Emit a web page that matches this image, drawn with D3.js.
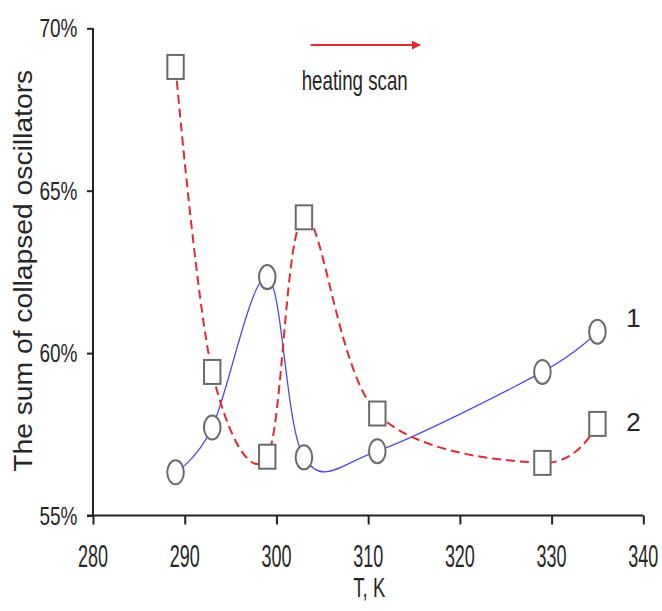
<!DOCTYPE html>
<html>
<head>
<meta charset="utf-8">
<script src="https://cdn.jsdelivr.net/npm/d3@7"></script>
<style>
  html, body { margin: 0; padding: 0; background: #fff; }
  svg { display: block; }
  text { font-family: "Liberation Sans", Arial, sans-serif; fill: #262626; }
</style>
</head>
<body>
<svg id="chart" width="662" height="611"></svg>
<script>
// Temperature points (K)
const temperatures = [289, 293, 299, 303, 311, 329, 335];
// Series 1: circles, solid blue smoothed line (%)
const series1 = [56.33, 57.71, 62.34, 56.79, 56.98, 59.42, 60.66];
// Series 2: squares, dashed red smoothed line (%)
const series2 = [68.81, 59.42, 56.81, 64.18, 58.14, 56.62, 57.82];
// Axis ticks
const xTicks = [280, 290, 300, 310, 320, 330, 340];
const yTicks = [55, 60, 65, 70];
const yTickLabels = ["55%", "60%", "65%", "70%"];
const seriesNames = ["1", "2"];

const svg = d3.select("#chart");

const x = d3.scaleLinear().domain([280, 340]).range([93, 643.3]);
const y = d3.scaleLinear().domain([55, 70]).range([515.5, 28.3]);

// Axes
const axisColor = "#222";
const xAxis = d3.axisBottom(x).tickValues(xTicks).tickSize(9).tickFormat("");
const gx = svg.append("g").attr("transform", `translate(0,${y(55)})`).call(xAxis);
gx.select(".domain").attr("d", `M${x(280) - 6},0H${x(340)}`);
gx.selectAll("path, line").attr("stroke", axisColor).attr("stroke-width", 2);

const yAxis = d3.axisLeft(y).tickValues(yTicks).tickSize(6).tickFormat("");
const gy = svg.append("g").attr("transform", `translate(${x(280)},0)`).call(yAxis);
gy.select(".domain").attr("d", `M0,${y(70)}V${y(55)}`);
gy.selectAll("path, line").attr("stroke", axisColor).attr("stroke-width", 2);

// Tick labels (narrow, tall digits drawn with a horizontal squeeze)
svg.append("g").selectAll("text").data(xTicks).join("text")
  .attr("transform", d => `translate(${x(d)},567) scale(0.58,1)`)
  .attr("text-anchor", "middle")
  .attr("font-size", 31)
  .text(d => d);

svg.append("g").selectAll("text").data(yTicks).join("text")
  .attr("x", 77.5).attr("y", d => y(d) + 9)
  .attr("text-anchor", "end")
  .attr("font-size", 25)
  .attr("textLength", 38).attr("lengthAdjust", "spacingAndGlyphs")
  .text((d, i) => yTickLabels[i]);

// Axis titles
svg.append("text")
  .attr("x", 369.3).attr("y", 596.7)
  .attr("text-anchor", "middle")
  .attr("font-size", 27)
  .attr("textLength", 32).attr("lengthAdjust", "spacingAndGlyphs")
  .text("T, K");

svg.append("text")
  .attr("transform", "translate(31.7,270.8) rotate(-90)")
  .attr("text-anchor", "middle")
  .attr("font-size", 25.5)
  .attr("textLength", 402).attr("lengthAdjust", "spacingAndGlyphs")
  .text("The sum of collapsed oscillators");

// Heating scan arrow and caption
const red = "#e02a30";
svg.append("defs").append("marker")
  .attr("id", "arrowHead")
  .attr("viewBox", "0 0 10 10")
  .attr("refX", 9).attr("refY", 5)
  .attr("markerWidth", 4.5).attr("markerHeight", 4.5)
  .attr("markerUnits", "strokeWidth")
  .attr("orient", "auto")
  .append("path").attr("d", "M0,0L10,5L0,10Z").attr("fill", red);

svg.append("line")
  .attr("x1", 310.7).attr("x2", 420).attr("y1", 45).attr("y2", 45)
  .attr("stroke", red).attr("stroke-width", 2)
  .attr("marker-end", "url(#arrowHead)");

svg.append("text")
  .attr("x", 301.7).attr("y", 90)
  .attr("font-size", 28.5)
  .attr("textLength", 106).attr("lengthAdjust", "spacingAndGlyphs")
  .text("heating scan");

// Smoothed curves
const line = d3.line().curve(d3.curveCardinal.tension(0));
const pts1 = temperatures.map((t, i) => [x(t), y(series1[i])]);
const pts2 = temperatures.map((t, i) => [x(t), y(series2[i])]);

svg.append("path").attr("d", line(pts1))
  .attr("fill", "none").attr("stroke", "#4c4cdc").attr("stroke-width", 1.3);

svg.append("path").attr("d", line(pts2))
  .attr("fill", "none").attr("stroke", red).attr("stroke-width", 2)
  .attr("stroke-dasharray", "9,5");

// Markers
const markerStroke = "#6a6a6a";
svg.append("g").selectAll("ellipse").data(pts1).join("ellipse")
  .attr("cx", d => d[0]).attr("cy", d => d[1])
  .attr("rx", 8.3).attr("ry", 12)
  .attr("fill", "#fff").attr("stroke", markerStroke).attr("stroke-width", 2);

svg.append("g").selectAll("rect").data(pts2).join("rect")
  .attr("x", d => d[0] - 8.2).attr("y", d => d[1] - 12)
  .attr("width", 16.4).attr("height", 24)
  .attr("fill", "#fff").attr("stroke", markerStroke).attr("stroke-width", 2);

// Series labels
svg.append("g").selectAll("text").data(seriesNames).join("text")
  .attr("x", 633.5)
  .attr("y", (d, i) => [327.3, 430.5][i])
  .attr("text-anchor", "middle")
  .attr("font-family", "'Liberation Serif', 'Times New Roman', serif")
  .attr("font-size", 26)
  .text(d => d);
</script>
</body>
</html>
